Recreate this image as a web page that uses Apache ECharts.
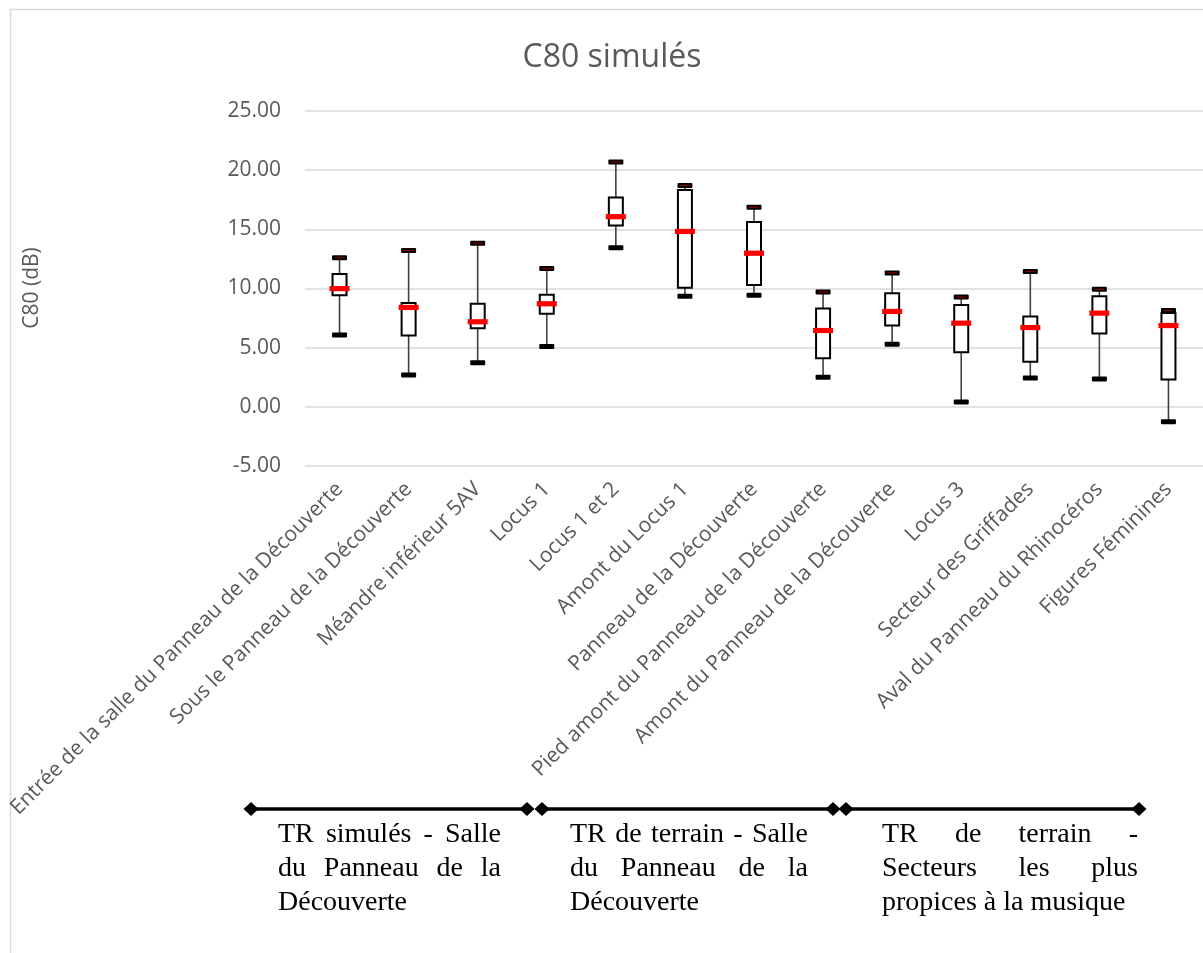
<!DOCTYPE html>
<html>
<head>
<meta charset="utf-8">
<script src="https://cdn.jsdelivr.net/npm/echarts@6/dist/echarts.min.js"></script>
<style>
html,body{margin:0;padding:0;background:#fff;}
#chart{width:1203px;height:953px;}
</style>
</head>
<body>
<div id="chart"></div>
<script>
// ---- Data ----
const categories = [
  "Entrée de la salle du Panneau de la Découverte",
  "Sous le Panneau de la Découverte",
  "Méandre inférieur 5AV",
  "Locus 1",
  "Locus 1 et 2",
  "Amont du Locus 1",
  "Panneau de la Découverte",
  "Pied amont du Panneau de la Découverte",
  "Amont du Panneau de la Découverte",
  "Locus 3",
  "Secteur des Griffades",
  "Aval du Panneau du Rhinocéros",
  "Figures Féminines"
];
const whiskerHigh = [12.59, 13.21, 13.83, 11.68, 20.70, 18.70, 16.86, 9.71, 11.32, 9.28, 11.43, 9.93, 8.15];
const q3Values    = [11.23, 8.77, 8.71, 9.48, 17.68, 18.33, 15.61, 8.32, 9.59, 8.60, 7.64, 9.34, 7.92];
const medianValues= [9.99, 8.40, 7.19, 8.71, 16.07, 14.82, 12.98, 6.45, 8.06, 7.07, 6.70, 7.92, 6.87];
const q1Values    = [9.42, 6.03, 6.65, 7.87, 15.33, 10.07, 10.30, 4.10, 6.87, 4.61, 3.82, 6.19, 2.32];
const whiskerLow  = [6.06, 2.69, 3.73, 5.09, 13.44, 9.34, 9.42, 2.49, 5.29, 0.40, 2.44, 2.35, -1.27];
const yTicks = { min: -5, max: 25, interval: 5 };

const groupTexts = [
  ["TR simulés - Salle", "du Panneau de la", "Découverte"],
  ["TR de terrain - Salle", "du Panneau de la", "Découverte"],
  ["TR de terrain -", "Secteurs les plus", "propices à la musique"]
];
const chartTitle = "C80 simulés";
const yAxisName = "C80 (dB)";

// ---- Build ----
const seriesData = categories.map((c, i) => [i, whiskerLow[i], q1Values[i], medianValues[i], q3Values[i], whiskerHigh[i]]);

function renderItem(params, api) {
  const i = api.value(0);
  const pLo = api.coord([i, api.value(1)]);
  const pQ1 = api.coord([i, api.value(2)]);
  const pMed = api.coord([i, api.value(3)]);
  const pQ3 = api.coord([i, api.value(4)]);
  const pHi = api.coord([i, api.value(5)]);
  const x = pLo[0];
  const bw = 14, cw = 15, mw = 20;
  return {
    type: 'group',
    children: [
      { type: 'line', shape: { x1: x, y1: pHi[1], x2: x, y2: pLo[1] }, style: { stroke: '#404040', lineWidth: 1.6 } },
      { type: 'rect', shape: { x: x - bw / 2, y: pQ3[1], width: bw, height: pQ1[1] - pQ3[1] }, style: { fill: '#fff', stroke: '#000', lineWidth: 2 } },
      { type: 'rect', shape: { x: x - cw / 2, y: pHi[1] - 2.5, width: cw, height: 5, r: 1 }, style: { fill: '#000' } },
      { type: 'line', shape: { x1: x - 5, y1: pHi[1], x2: x + 5, y2: pHi[1] }, style: { stroke: '#a00000', lineWidth: 1 } },
      { type: 'rect', shape: { x: x - cw / 2, y: pLo[1] - 2.5, width: cw, height: 5, r: 1 }, style: { fill: '#000' } },
      { type: 'rect', shape: { x: x - mw / 2, y: pMed[1] - 2.6, width: mw, height: 5.2 }, style: { fill: '#ff0000' } }
    ]
  };
}

// justified annotation text
const measureCtx = document.createElement('canvas').getContext('2d');
const annFont = "28px 'Liberation Serif', 'Times New Roman', serif";
function justifiedText(lines, x0, x1, y0, lh) {
  measureCtx.font = annFont;
  const els = [];
  lines.forEach((line, li) => {
    const y = y0 + li * lh;
    const words = line.split(' ');
    if (li === lines.length - 1 || words.length === 1) {
      els.push({ type: 'text', x: x0, y: y, style: { text: line, font: annFont, fill: '#000', align: 'left', textAlign: 'left', verticalAlign: 'middle', textVerticalAlign: 'middle' } });
      return;
    }
    const widths = words.map(w => measureCtx.measureText(w).width);
    const total = widths.reduce((a, b) => a + b, 0);
    const gap = (x1 - x0 - total) / (words.length - 1);
    let x = x0;
    words.forEach((w, k) => {
      els.push({ type: 'text', x: x, y: y, style: { text: w, font: annFont, fill: '#000', align: 'left', textAlign: 'left', verticalAlign: 'middle', textVerticalAlign: 'middle' } });
      x += widths[k] + gap;
    });
  });
  return els;
}

function bracket(xa, xb, y) {
  const d = 7.5, h = 7;
  return [
    { type: 'line', shape: { x1: xa, y1: y, x2: xb, y2: y }, style: { stroke: '#000', lineWidth: 3.5 } },
    { type: 'polygon', shape: { points: [[xa - d, y], [xa, y - h], [xa + d, y], [xa, y + h]] }, style: { fill: '#000' } },
    { type: 'polygon', shape: { points: [[xb - d, y], [xb, y - h], [xb + d, y], [xb, y + h]] }, style: { fill: '#000' } }
  ];
}

const textCols = [[278, 501], [570, 808], [882, 1138]];
const brackets = [[251, 527], [542, 833], [846, 1139]];
let graphics = [
  { type: 'rect', shape: { x: 10.5, y: 9.5, width: 1210, height: 960 }, style: { fill: 'none', stroke: '#d9d9d9', lineWidth: 1.5 }, z: -1 },
  { type: 'text', x: 32, y: 288, rotation: Math.PI / 2,
    style: { text: yAxisName, font: "21px 'Open Sans'", fill: '#595959', align: 'center', textAlign: 'center', verticalAlign: 'middle', textVerticalAlign: 'middle' } }
];
brackets.forEach(b => { graphics = graphics.concat(bracket(b[0], b[1], 809)); });
groupTexts.forEach((g, k) => { graphics = graphics.concat(justifiedText(g, textCols[k][0], textCols[k][1], 835, 34)); });

const chart = echarts.init(document.getElementById('chart'), null, { renderer: 'canvas' });
chart.setOption({
  backgroundColor: '#fff',
  animation: false,
  title: {
    text: chartTitle,
    left: 607, top: 37, textAlign: 'center',
    textStyle: { fontFamily: "'Open Sans'", fontSize: 32, fontWeight: 'normal', color: '#595959' }
  },
  grid: { left: 305, right: -3, top: 111, bottom: 487, containLabel: false },
  xAxis: {
    type: 'category',
    data: categories,
    boundaryGap: true,
    axisLine: { show: false },
    axisTick: { show: false },
    splitLine: { show: false },
    axisLabel: {
      interval: 0, rotate: 45, margin: 20,
      fontFamily: "'Open Sans'", fontSize: 21, color: '#595959'
    }
  },
  yAxis: {
    type: 'value',
    min: yTicks.min, max: yTicks.max, interval: yTicks.interval,
    axisLine: { show: false },
    axisTick: { show: false },
    splitLine: { show: true, lineStyle: { color: '#d9d9d9', width: 1.5 } },
    axisLabel: {
      margin: 24, fontFamily: "'Open Sans'", fontSize: 21, color: '#595959',
      formatter: v => v.toFixed(2)
    }
  },
  series: [{
    type: 'custom',
    renderItem: renderItem,
    data: seriesData,
    encode: { x: 0, y: [1, 2, 3, 4, 5] },
    clip: false
  }],
  graphic: graphics
});
</script>
</body>
</html>
